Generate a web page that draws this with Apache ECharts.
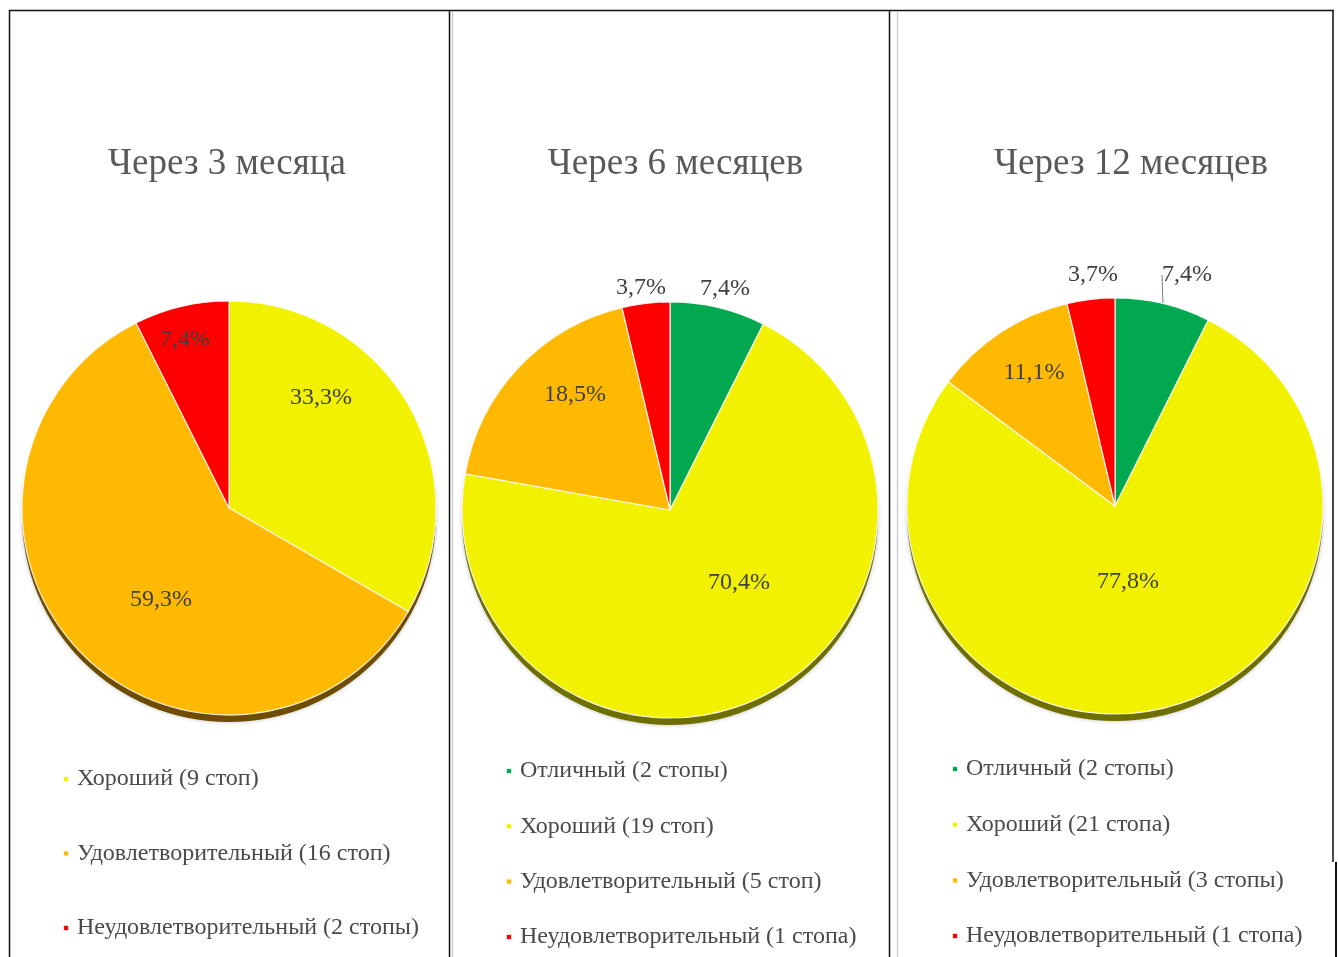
<!DOCTYPE html>
<html>
<head>
<meta charset="utf-8">
<script src="https://cdn.jsdelivr.net/npm/echarts@6/dist/echarts.min.js"></script>
<style>
  html, body { margin: 0; padding: 0; background: #fff; }
  #chart { width: 1338px; height: 957px; }
</style>
</head>
<body>
<div id="chart"></div>
<script>
// Outcome grades of feet at three follow-up points
const categories = ['Отличный', 'Хороший', 'Удовлетворительный', 'Неудовлетворительный'];
const periods = ['Через 3 месяца', 'Через 6 месяцев', 'Через 12 месяцев'];
const counts3m = [0, 9, 16, 2];
const counts6m = [2, 19, 5, 1];
const counts12m = [2, 21, 3, 1];

// Styling and layout
const sliceColors = ['#00A850', '#F2F200', '#FFB900', '#FF0000'];
const shadowColors = ['#6e4c00', '#6f6f00', '#6f6f00'];
const serif = '"Liberation Serif", "DejaVu Serif", "Times New Roman", serif';
const panels = [
  { cx: 229, cy: 508, r: 207, titleX: 227, legendX: 62, legendTop: 766.5, legendStep: 74.5,
    labelOffsets: [[92, -110], [-68, 92], [-44, -168]] },
  { cx: 670, cy: 510, r: 208, titleX: 675.5, legendX: 505, legendTop: 758.5, legendStep: 55.3,
    labelOffsets: [[55, -221], [69, 73], [-95, -115], [-29, -222]] },
  { cx: 1115, cy: 506, r: 208, titleX: 1131, legendX: 951, legendTop: 756.5, legendStep: 55.7,
    labelOffsets: [[72, -231], [13, 76], [-81, -133], [-22, -231]] }
];
const allCounts = [counts3m, counts6m, counts12m];

function feetWord(n) {
  const m10 = n % 10, m100 = n % 100;
  if (m10 === 1 && m100 !== 11) return 'стопа';
  if (m10 >= 2 && m10 <= 4 && (m100 < 12 || m100 > 14)) return 'стопы';
  return 'стоп';
}
function fmtPct(v, total) {
  return (v / total * 100).toFixed(1).replace('.', ',');
}

const LEGEND_LINE = 25;
const titles = [], legends = [], series = [];
panels.forEach(function (p, pi) {
  const counts = allCounts[pi];
  const total = counts.reduce(function (a, b) { return a + b; }, 0);
  const items = [];
  counts.forEach(function (c, ci) {
    if (c > 0) {
      items.push({
        name: categories[ci] + ' (' + c + ' ' + feetWord(c) + ')',
        value: c,
        itemStyle: { color: sliceColors[ci] }
      });
    }
  });
  // leader line for the small green slice of the last chart
  if (pi === 2) {
    items[0].label = { position: 'outside' };
    items[0].labelLine = { show: true, length: 6, length2: 0, lineStyle: { color: '#7f7f7f', width: 1 } };
  }

  titles.push({
    text: periods[pi],
    left: p.titleX, top: 146, textAlign: 'center', padding: 0,
    textStyle: { fontFamily: serif, fontSize: 37, fontWeight: 'normal', color: '#595959' }
  });

  legends.push({
    orient: 'vertical',
    left: p.legendX, top: p.legendTop, padding: 0,
    itemWidth: 6, itemHeight: 6,
    itemGap: p.legendStep - LEGEND_LINE,
    icon: 'rect',
    selectedMode: false,
    data: items.map(function (d) { return d.name; }),
    textStyle: { fontFamily: serif, fontSize: 24, lineHeight: LEGEND_LINE, color: '#4a4a4a', padding: [0, 0, 0, 3] }
  });

  // darker disc slightly below the pie, giving it a raised edge
  series.push({
    type: 'pie', silent: true, z: 1,
    center: [p.cx, p.cy + 7], radius: p.r,
    label: { show: false }, labelLine: { show: false },
    itemStyle: { color: shadowColors[pi], shadowColor: 'rgba(0,0,0,0.25)', shadowBlur: 4 },
    data: [{ name: '', value: 1 }],
    animation: false
  });

  series.push({
    type: 'pie', z: 2,
    center: [p.cx, p.cy], radius: p.r,
    startAngle: 90, clockwise: true,
    avoidLabelOverlap: false,
    animation: false,
    itemStyle: { borderColor: 'rgba(255,255,255,0.85)', borderWidth: 1.2 },
    label: {
      show: true, position: 'inside',
      fontFamily: serif, fontSize: 24, color: '#404040',
      formatter: function (params) { return fmtPct(params.value, total) + '%'; }
    },
    labelLine: { show: false },
    labelLayout: function (params) {
      const off = p.labelOffsets[params.dataIndex];
      return { x: p.cx + off[0], y: p.cy + off[1], align: 'center', verticalAlign: 'middle' };
    },
    data: items
  });
});

// frame lines around and between the three panels
const frame = [
  { type: 'line', shape: { x1: 9, y1: 10.5, x2: 1334, y2: 10.5 }, style: { stroke: '#111', lineWidth: 1.5 } },
  { type: 'line', shape: { x1: 9.5, y1: 10, x2: 9.5, y2: 957 }, style: { stroke: '#111', lineWidth: 1.5 } },
  { type: 'line', shape: { x1: 449.5, y1: 10, x2: 449.5, y2: 957 }, style: { stroke: '#111', lineWidth: 1.5 } },
  { type: 'line', shape: { x1: 452.5, y1: 12, x2: 452.5, y2: 957 }, style: { stroke: '#cfcfcf', lineWidth: 1.5 } },
  { type: 'line', shape: { x1: 889.5, y1: 10, x2: 889.5, y2: 957 }, style: { stroke: '#111', lineWidth: 1.5 } },
  { type: 'line', shape: { x1: 897.5, y1: 12, x2: 897.5, y2: 957 }, style: { stroke: '#d0d0d0', lineWidth: 1.5 } },
  { type: 'line', shape: { x1: 1333, y1: 10, x2: 1333, y2: 862 }, style: { stroke: '#111', lineWidth: 1.5 } },
  { type: 'line', shape: { x1: 1336, y1: 862, x2: 1336, y2: 957 }, style: { stroke: '#111', lineWidth: 2 } }
];

const chart = echarts.init(document.getElementById('chart'), null, { renderer: 'canvas' });
chart.setOption({
  backgroundColor: '#ffffff',
  title: titles,
  legend: legends,
  series: series,
  graphic: frame
});
</script>
</body>
</html>
